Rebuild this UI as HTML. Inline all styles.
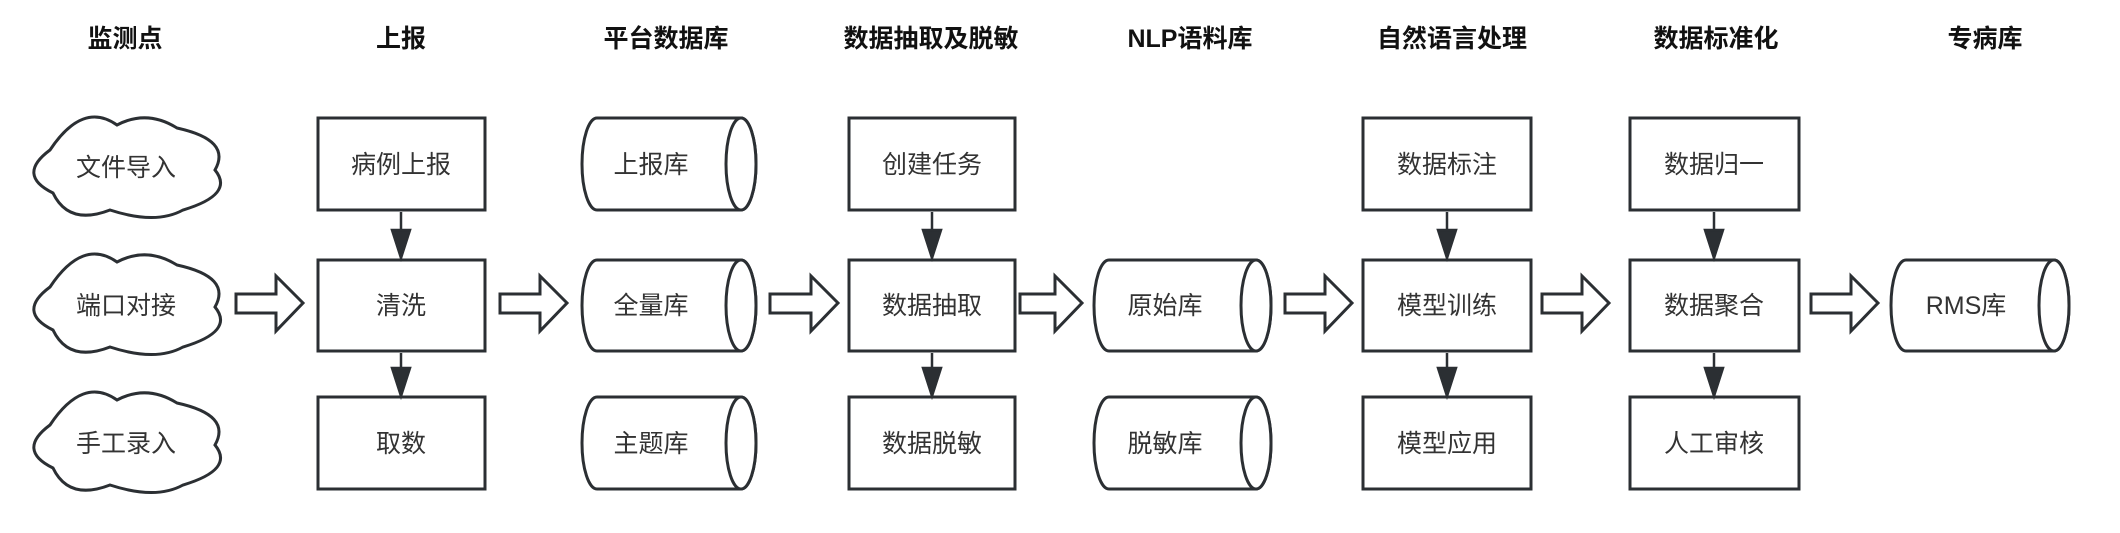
<!DOCTYPE html>
<html><head><meta charset="utf-8"><style>
html,body{margin:0;padding:0;background:#fff;}
svg text{font-family:"Liberation Sans","Noto Sans CJK SC",sans-serif;}
</style></head><body>
<svg width="2120" height="528" viewBox="0 0 2120 528" xmlns="http://www.w3.org/2000/svg">
<defs>
<symbol id="cloud" viewBox="0 0 196 108" overflow="visible">
<path d="M22,38 Q54.75,-11.25 89,13 Q119,-2.75 149,16 Q204,28 187,58 Q207,82.5 155,98 Q128,113 82,98 Q40.75,114 25,81 Q-11.75,63 22,38 Z" fill="#fff" stroke="#2b2f33" stroke-width="3"/>
</symbol>
</defs>
<g font-weight="bold" font-size="25" fill="#111" text-anchor="middle">
<text x="125" y="47">监测点</text>
<text x="401" y="47">上报</text>
<text x="666" y="47">平台数据库</text>
<text x="931" y="47">数据抽取及脱敏</text>
<text x="1190" y="47">NLP语料库</text>
<text x="1452" y="47">自然语言处理</text>
<text x="1716" y="47">数据标准化</text>
<text x="1985" y="47">专病库</text>
</g>
<use href="#cloud" x="28" y="112" width="196" height="108"/>
<use href="#cloud" x="28" y="249" width="196" height="108"/>
<use href="#cloud" x="28" y="387" width="196" height="108"/>
<g fill="#fff" stroke="#2b2f33" stroke-width="3">
<rect x="318" y="118" width="167" height="92"/>
<rect x="318" y="260" width="167" height="91"/>
<rect x="318" y="397" width="167" height="92"/>
<rect x="849" y="118" width="166" height="92"/>
<rect x="849" y="260" width="166" height="91"/>
<rect x="849" y="397" width="166" height="92"/>
<rect x="1363" y="118" width="168" height="92"/>
<rect x="1363" y="260" width="168" height="91"/>
<rect x="1363" y="397" width="168" height="92"/>
<rect x="1630" y="118" width="169" height="92"/>
<rect x="1630" y="260" width="169" height="91"/>
<rect x="1630" y="397" width="169" height="92"/>
</g>
<g fill="#fff" stroke="#2b2f33" stroke-width="3">
<path d="M597,118 H741 A15,46 0 0 1 741,210 H597 A15,46 0 0 1 597,118 Z"/><ellipse cx="741" cy="164" rx="15" ry="46"/>
<path d="M597,260 H741 A15,45.5 0 0 1 741,351 H597 A15,45.5 0 0 1 597,260 Z"/><ellipse cx="741" cy="305.5" rx="15" ry="45.5"/>
<path d="M597,397 H741 A15,46 0 0 1 741,489 H597 A15,46 0 0 1 597,397 Z"/><ellipse cx="741" cy="443" rx="15" ry="46"/>
<path d="M1109,260 H1256 A15,45.5 0 0 1 1256,351 H1109 A15,45.5 0 0 1 1109,260 Z"/><ellipse cx="1256" cy="305.5" rx="15" ry="45.5"/>
<path d="M1109,397 H1256 A15,46 0 0 1 1256,489 H1109 A15,46 0 0 1 1109,397 Z"/><ellipse cx="1256" cy="443" rx="15" ry="46"/>
<path d="M1906,260 H2054 A15,45.5 0 0 1 2054,351 H1906 A15,45.5 0 0 1 1906,260 Z"/><ellipse cx="2054" cy="305.5" rx="15" ry="45.5"/>
</g>
<g fill="#fff" stroke="#2b2f33" stroke-width="3" stroke-linejoin="miter">
<path d="M236,294 H276 V276 L303,303 L276,331 V313 H236 Z"/>
<path d="M500,294 H540 V276 L567,303 L540,331 V313 H500 Z"/>
<path d="M770,294 H811 V276 L838,303 L811,331 V313 H770 Z"/>
<path d="M1020,294 H1055 V276 L1082,303 L1055,331 V313 H1020 Z"/>
<path d="M1285,294 H1325 V276 L1352,303 L1325,331 V313 H1285 Z"/>
<path d="M1542,294 H1582 V276 L1609,303 L1582,331 V313 H1542 Z"/>
<path d="M1811,294 H1851 V276 L1878,303 L1851,331 V313 H1811 Z"/>
</g>
<g stroke="#2b2f33" stroke-width="2.5" fill="#2b2f33">
<line x1="401" y1="212" x2="401" y2="232"/><path d="M392,230 H410 L401,258 Z"/>
<line x1="401" y1="353" x2="401" y2="370"/><path d="M392,368 H410 L401,396 Z"/>
<line x1="932" y1="212" x2="932" y2="232"/><path d="M923,230 H941 L932,258 Z"/>
<line x1="932" y1="353" x2="932" y2="370"/><path d="M923,368 H941 L932,396 Z"/>
<line x1="1447" y1="212" x2="1447" y2="232"/><path d="M1438,230 H1456 L1447,258 Z"/>
<line x1="1447" y1="353" x2="1447" y2="370"/><path d="M1438,368 H1456 L1447,396 Z"/>
<line x1="1714" y1="212" x2="1714" y2="232"/><path d="M1705,230 H1723 L1714,258 Z"/>
<line x1="1714" y1="353" x2="1714" y2="370"/><path d="M1705,368 H1723 L1714,396 Z"/>
</g>
<g font-size="25" fill="#333" text-anchor="middle" dominant-baseline="central">
<text x="126" y="168">文件导入</text>
<text x="126" y="306">端口对接</text>
<text x="126" y="444">手工录入</text>
<text x="401" y="165">病例上报</text>
<text x="401" y="306">清洗</text>
<text x="401" y="444">取数</text>
<text x="651" y="165">上报库</text>
<text x="651" y="306">全量库</text>
<text x="651" y="444">主题库</text>
<text x="932" y="165">创建任务</text>
<text x="932" y="306">数据抽取</text>
<text x="932" y="444">数据脱敏</text>
<text x="1165" y="306">原始库</text>
<text x="1165" y="444">脱敏库</text>
<text x="1447" y="165">数据标注</text>
<text x="1447" y="306">模型训练</text>
<text x="1447" y="444">模型应用</text>
<text x="1714" y="165">数据归一</text>
<text x="1714" y="306">数据聚合</text>
<text x="1714" y="444">人工审核</text>
<text x="1966" y="306">RMS库</text>
</g>
</svg>
</body></html>
